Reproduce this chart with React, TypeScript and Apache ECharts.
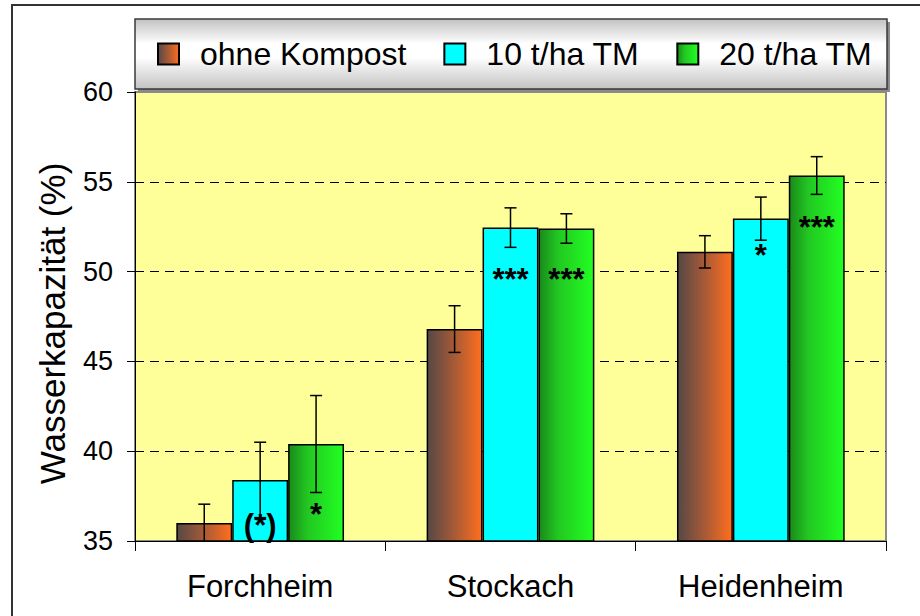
import React, { useEffect, useRef } from "react";
import * as echarts from "echarts";

// ---- data ----
const categories = ["Forchheim", "Stockach", "Heidenheim"];
const seriesNames = ["ohne Kompost", "10 t/ha TM", "20 t/ha TM"];
const ohneKompost = [36.0, 46.8, 51.1];
const ohneKompostErr = [1.05, 1.3, 0.9];
const tm10 = [38.4, 52.45, 52.95];
const tm10Err = [2.1, 1.1, 1.2];
const tm20 = [40.4, 52.4, 55.35];
const tm20Err = [2.7, 0.82, 1.05];
const tm10Sig = ["(*)", "***", "*"];
const tm10SigY = [35.85, 49.55, 50.88];
const tm20Sig = ["*", "***", "***"];
const tm20SigY = [36.5, 49.55, 52.45];
const yMin = 35;
const yMax = 60;
const yStep = 5;

const FONT = '"Liberation Sans", Arial, sans-serif';
const CAT_GAP = 0.33;

const fills = [
  new echarts.graphic.LinearGradient(0, 0, 1, 0, [
    { offset: 0, color: "#554846" },
    { offset: 0.5, color: "#a85a36" },
    { offset: 1, color: "#ff6e1e" },
  ]),
  "#00FFFF",
  new echarts.graphic.LinearGradient(0, 0, 1, 0, [
    { offset: 0, color: "#1a8a1a" },
    { offset: 0.35, color: "#22c822" },
    { offset: 1, color: "#22ff22" },
  ]),
];

function barSeries(name: string, values: number[], idx: number) {
  return {
    type: "bar",
    name,
    data: values,
    barGap: "0%",
    barCategoryGap: "33%",
    itemStyle: { color: fills[idx], borderColor: "#000", borderWidth: 1.5 },
    z: 2,
  };
}

function errorSeries(values: number[], errs: number[], idx: number) {
  return {
    type: "custom",
    name: "err" + idx,
    silent: true,
    z: 5,
    clip: true,
    data: values.map((v, i) => [i, v, errs[i]]),
    renderItem: (params: any, api: any) => {
      const ci = api.value(0);
      const v = api.value(1);
      const e = api.value(2);
      const catW = api.size([1, 0])[0];
      const bw = (catW * (1 - CAT_GAP)) / 3;
      const c = api.coord([ci, v]);
      const x = c[0] + (idx - 1) * bw;
      const lo = Math.max(v - e, yMin);
      const yTop = api.coord([ci, v + e])[1];
      const yLo = api.coord([ci, lo])[1];
      const st = { stroke: "#000", lineWidth: 1.5 };
      const children: any[] = [
        { type: "line", shape: { x1: x, y1: yTop, x2: x, y2: yLo }, style: st },
        { type: "line", shape: { x1: x - 6, y1: yTop, x2: x + 6, y2: yTop }, style: st },
      ];
      if (v - e >= yMin) {
        children.push({ type: "line", shape: { x1: x - 6, y1: yLo, x2: x + 6, y2: yLo }, style: st });
      }
      return { type: "group", children };
    },
  };
}

function sigSeries(labels: string[], ys: number[], idx: number) {
  return {
    type: "custom",
    name: "sig" + idx,
    silent: true,
    z: 6,
    data: ys.map((y, i) => [i, y]),
    renderItem: (params: any, api: any) => {
      const ci = api.value(0);
      const y = api.value(1);
      const catW = api.size([1, 0])[0];
      const bw = (catW * (1 - CAT_GAP)) / 3;
      const c = api.coord([ci, y]);
      return {
        type: "text",
        x: c[0] + (idx - 1) * bw,
        y: c[1],
        style: {
          text: labels[params.dataIndex],
          fontSize: 31,
          fontWeight: "bold",
          fontFamily: FONT,
          fill: "#000",
          align: "center",
          verticalAlign: "middle",
        },
      };
    },
  };
}

export default function App() {
  const ref = useRef<HTMLDivElement>(null);
  useEffect(() => {
    if (!ref.current) return;
    const chart = echarts.init(ref.current, undefined, { renderer: "svg" });
    chart.setOption({
      animation: false,
      backgroundColor: "#fff",
      textStyle: { fontFamily: FONT, color: "#000" },
      graphic: [
        {
          type: "rect",
          z: -10,
          shape: { x: 12, y: 5, width: 940, height: 650 },
          style: { fill: "none", stroke: "#333", lineWidth: 2 },
        },
        {
          type: "rect",
          z: -9,
          shape: { x: 138, y: 22, width: 752, height: 70 },
          style: { fill: "#8a8a8a" },
        },
        {
          type: "rect",
          z: -8,
          shape: { x: 135, y: 19, width: 752, height: 70 },
          style: {
            fill: new echarts.graphic.LinearGradient(0, 0, 0, 1, [
              { offset: 0, color: "#c2c2c2" },
              { offset: 0.35, color: "#ffffff" },
              { offset: 0.55, color: "#ffffff" },
              { offset: 1, color: "#c2c2c2" },
            ]),
            stroke: "#3a3a3a",
            lineWidth: 1.5,
          },
        },
      ],
      legend: {
        left: 157,
        top: 38,
        padding: 0,
        itemWidth: 21,
        itemHeight: 21,
        itemGap: 37,
        icon: "rect",
        data: seriesNames,
        textStyle: { fontSize: 32, fontFamily: FONT, color: "#000", padding: [0, 0, 0, 16] },
      },
      grid: {
        left: 135,
        top: 92,
        right: 34,
        bottom: 75,
        show: true,
        backgroundColor: "#FFFF99",
        borderColor: "#8a8a8a",
        borderWidth: 2,
      },
      xAxis: {
        type: "category",
        data: categories,
        axisLine: { lineStyle: { color: "#000", width: 1 } },
        axisTick: { show: true, length: 10, alignWithLabel: false, lineStyle: { color: "#000", width: 1 } },
        axisLabel: { fontSize: 31, fontFamily: FONT, color: "#000", margin: 30 },
        splitLine: { show: false },
      },
      yAxis: {
        type: "value",
        min: yMin,
        max: yMax,
        interval: yStep,
        name: "Wasserkapazität (%)",
        nameLocation: "middle",
        nameGap: 65,
        nameTextStyle: { fontSize: 35, fontFamily: FONT, color: "#000", padding: [0, 14, 0, 0] },
        axisLine: { show: true, lineStyle: { color: "#000", width: 1 } },
        axisTick: { show: true, length: 8, lineStyle: { color: "#000", width: 1 } },
        axisLabel: { fontSize: 27, fontFamily: FONT, color: "#000", margin: 22 },
        splitLine: {
          show: true,
          showMinLine: false,
          showMaxLine: false,
          lineStyle: { color: "#000", width: 1, type: [9, 6] },
        },
      },
      series: [
        barSeries(seriesNames[0], ohneKompost, 0),
        barSeries(seriesNames[1], tm10, 1),
        barSeries(seriesNames[2], tm20, 2),
        errorSeries(ohneKompost, ohneKompostErr, 0),
        errorSeries(tm10, tm10Err, 1),
        errorSeries(tm20, tm20Err, 2),
        sigSeries(tm10Sig, tm10SigY, 1),
        sigSeries(tm20Sig, tm20SigY, 2),
      ],
    });
    return () => chart.dispose();
  }, []);
  return (
    <div
      ref={ref}
      style={{ position: "fixed", left: 0, top: 0, width: 920, height: 616 }}
    />
  );
}
